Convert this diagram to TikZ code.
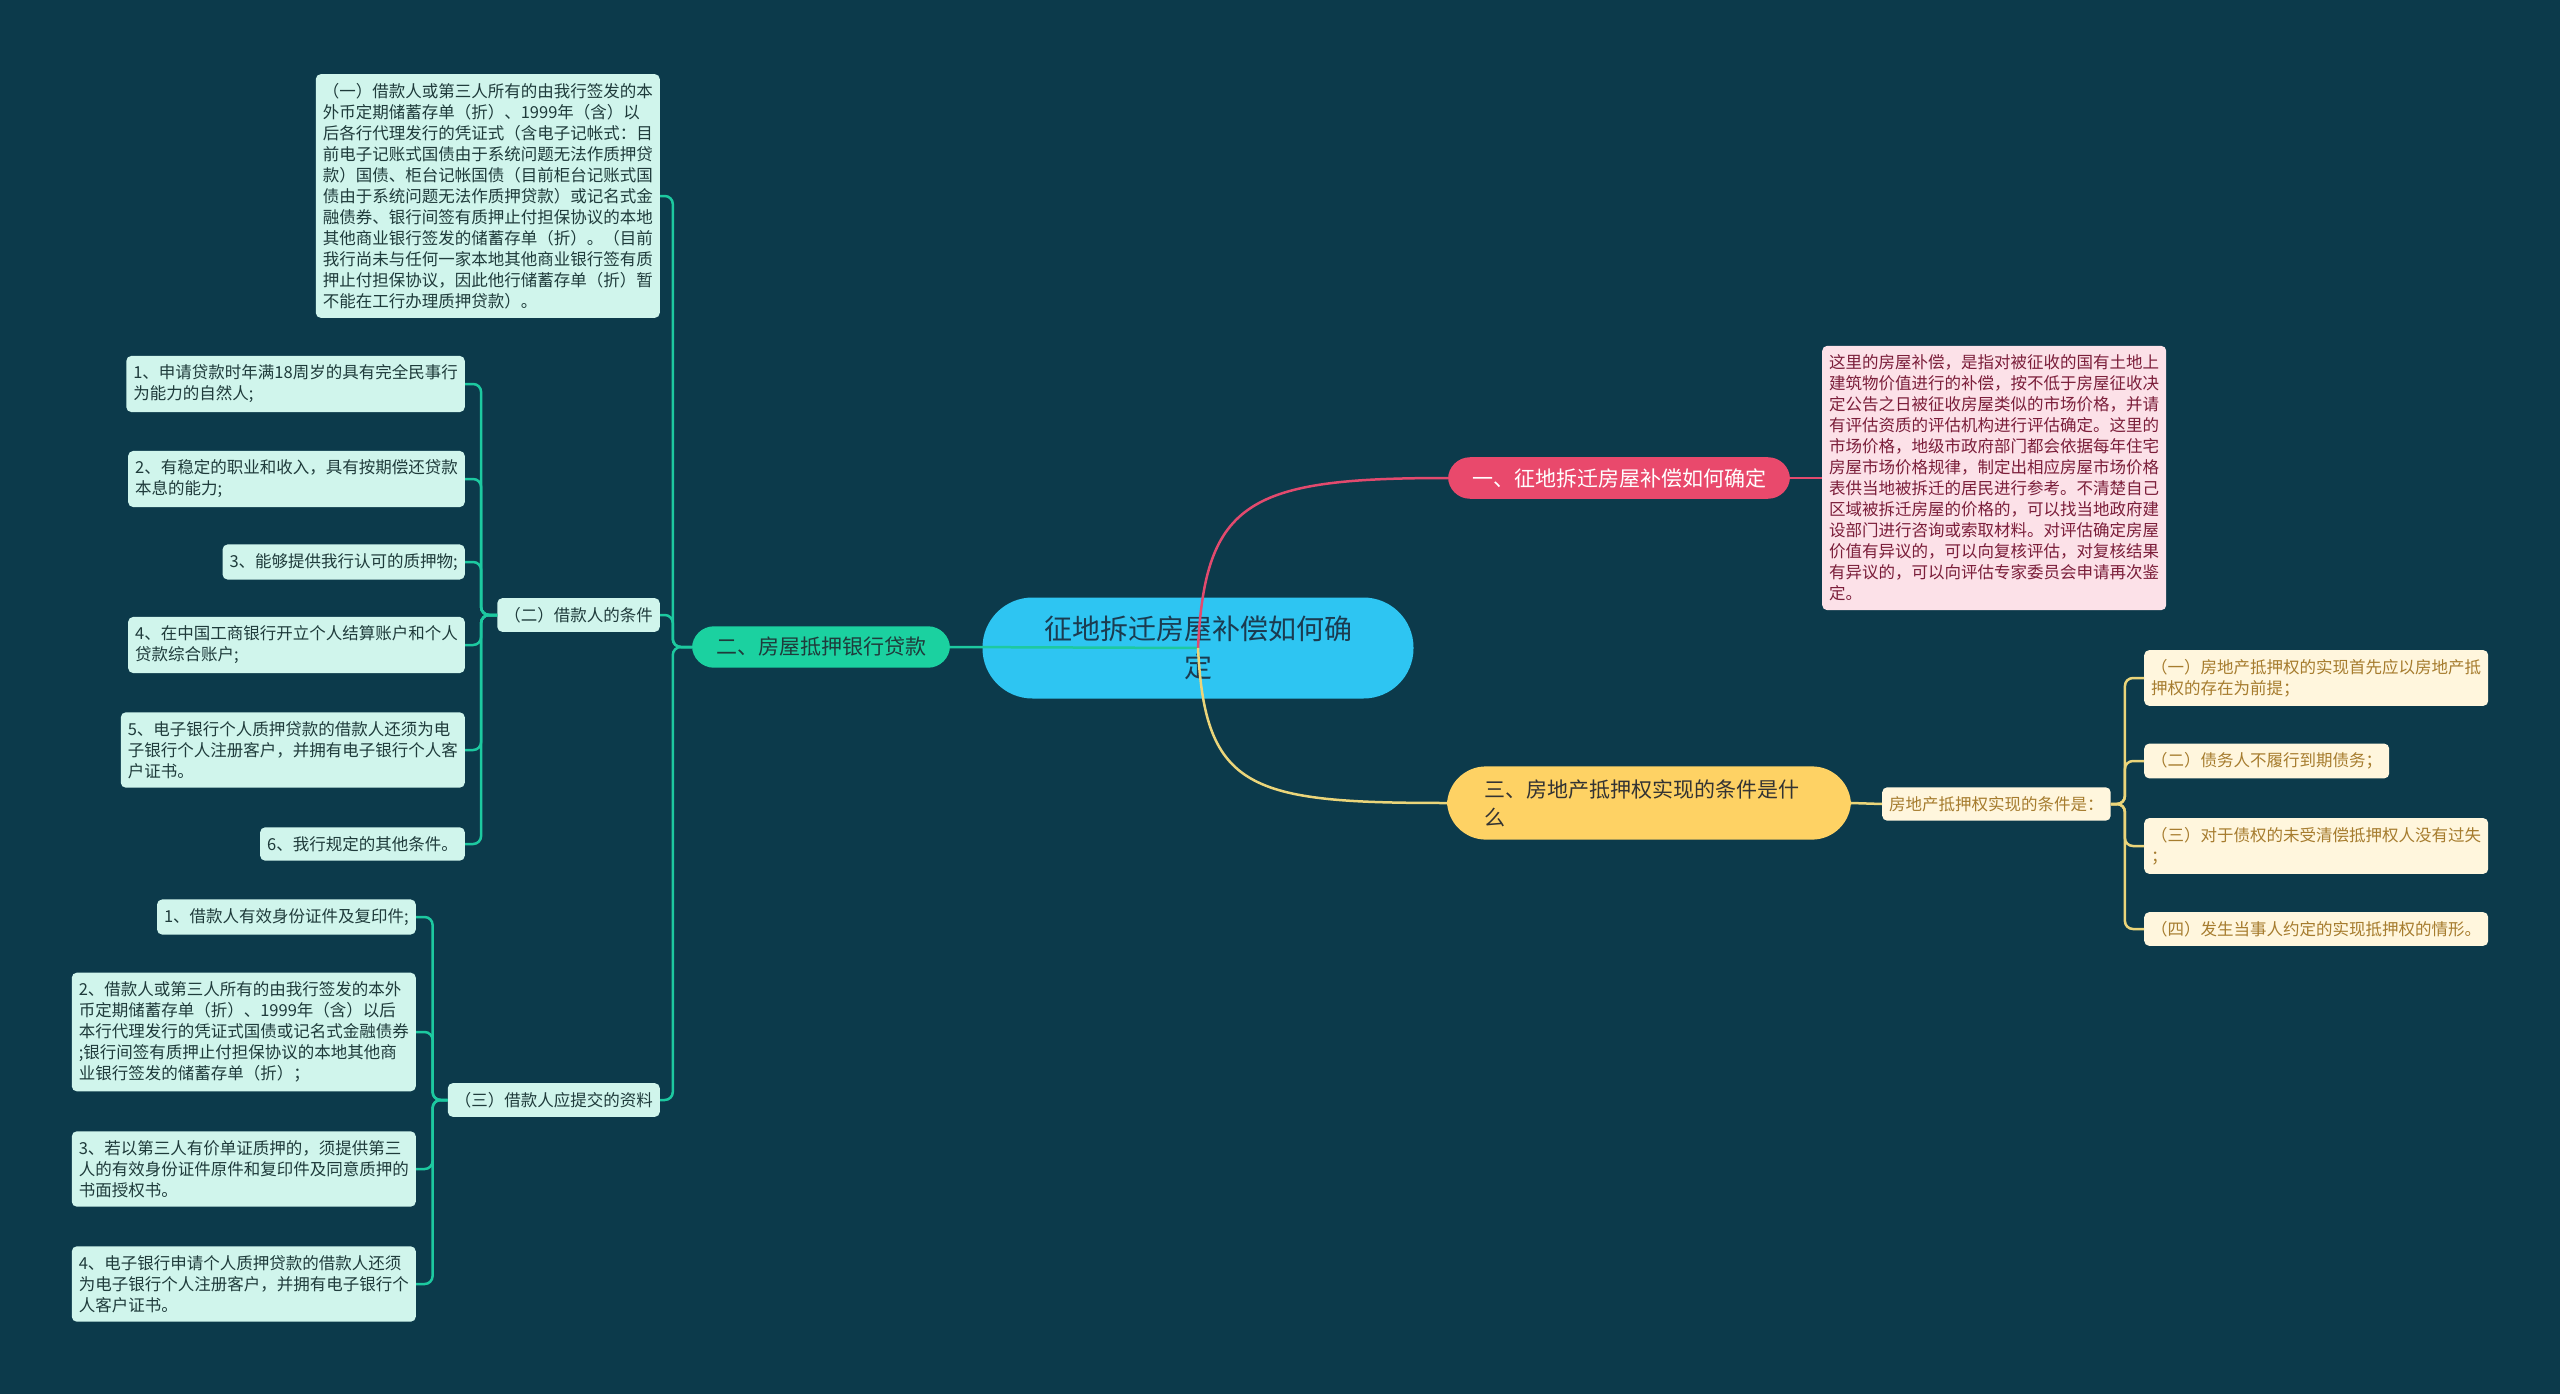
\documentclass[tikz,border=0pt]{standalone}
\usepackage{fontspec}
\setmainfont{Noto Sans CJK SC}
\usetikzlibrary{positioning}
\definecolor{bgteal}{HTML}{0C3A4B}
\definecolor{skyfill}{HTML}{2EC5F2}
\definecolor{skyink}{HTML}{1B3B50}
\definecolor{rosefill}{HTML}{E9496C}
\definecolor{roseline}{HTML}{E24A6E}
\definecolor{rosepale}{HTML}{FCE1E8}
\definecolor{roseink}{HTML}{7B1E3A}
\definecolor{mintfill}{HTML}{1BD1A0}
\definecolor{mintline}{HTML}{1DC9A0}
\definecolor{mintpale}{HTML}{D0F5EC}
\definecolor{mintink}{HTML}{1F3B3B}
\definecolor{goldfill}{HTML}{FED264}
\definecolor{goldline}{HTML}{EBD57A}
\definecolor{goldpale}{HTML}{FFF6DD}
\definecolor{goldink}{HTML}{A67C2E}
\tikzset{
  centre/.style={fill=skyfill, text=skyink, rounded corners=50pt, align=center, minimum width=431pt, minimum height=101pt, font=\fontsize{28}{38}\selectfont},
  topic/.style={rounded corners=22pt, inner xsep=24pt, inner ysep=11pt, font=\fontsize{21}{28}\selectfont},
  leaf/.style={rounded corners=5pt, align=left, inner xsep=7pt, inner ysep=9pt, font=\fontsize{16.5}{21}\selectfont},
  gleaf/.style={leaf, fill=mintpale, text=mintink},
  rleaf/.style={leaf, fill=rosepale, text=roseink},
  yleaf/.style={leaf, fill=goldpale, text=goldink},
  gline/.style={draw=mintline, line width=2.5pt, rounded corners=8pt},
  rline/.style={draw=roseline, line width=2.5pt},
  yline/.style={draw=goldline, line width=2.5pt, rounded corners=8pt},
}

\begin{document}
\begin{tikzpicture}[x=1pt,y=-1pt]
  \fill[bgteal] (0,0) rectangle (2560,1394);

  \node[centre] (root) at (1198,648) {征地拆迁房屋补偿如何确\\定};
  \node[topic, fill=mintfill, text=mintink] (loan) at (821,647) {二、房屋抵押银行贷款};
  \node[topic, fill=rosefill, text=white] (comp) at (1619,478) {一、征地拆迁房屋补偿如何确定};
  \node[topic, fill=goldfill, text=black!80, rounded corners=39pt, inner xsep=37pt, inner ysep=13pt, text width=330pt, align=left] (cond) at (1649,803) {三、房地产抵押权实现的条件是什\\么};

  % 左侧：房屋抵押银行贷款
  \node[gleaf, anchor=east] (pledge) at (660,196) {（一）借款人或第三人所有的由我行签发的本\\外币定期储蓄存单（折）、1999年（含）以\\后各行代理发行的凭证式（含电子记帐式：目\\前电子记账式国债由于系统问题无法作质押贷\\款）国债、柜台记帐国债（目前柜台记账式国\\债由于系统问题无法作质押贷款）或记名式金\\融债券、银行间签有质押止付担保协议的本地\\其他商业银行签发的储蓄存单（折）。（目前\\我行尚未与任何一家本地其他商业银行签有质\\押止付担保协议，因此他行储蓄存单（折）暂\\不能在工行办理质押贷款）。};
  \node[gleaf, anchor=east] (req) at (660,615) {（二）借款人的条件};
  \node[gleaf, anchor=east] (docs) at (660,1100) {（三）借款人应提交的资料};

  \node[gleaf, anchor=east] (req1) at (465,384) {1、申请贷款时年满18周岁的具有完全民事行\\为能力的自然人;};
  \node[gleaf, anchor=east] (req2) at (465,479) {2、有稳定的职业和收入，具有按期偿还贷款\\本息的能力;};
  \node[gleaf, anchor=east] (req3) at (465,562) {3、能够提供我行认可的质押物;};
  \node[gleaf, anchor=east] (req4) at (465,645) {4、在中国工商银行开立个人结算账户和个人\\贷款综合账户;};
  \node[gleaf, anchor=east] (req5) at (465,750) {5、电子银行个人质押贷款的借款人还须为电\\子银行个人注册客户，并拥有电子银行个人客\\户证书。};
  \node[gleaf, anchor=east] (req6) at (465,844) {6、我行规定的其他条件。};

  \node[gleaf, anchor=east] (doc1) at (416,917) {1、借款人有效身份证件及复印件;};
  \node[gleaf, anchor=east] (doc2) at (416,1032) {2、借款人或第三人所有的由我行签发的本外\\币定期储蓄存单（折）、1999年（含）以后\\本行代理发行的凭证式国债或记名式金融债券\\;银行间签有质押止付担保协议的本地其他商\\业银行签发的储蓄存单（折）；};
  \node[gleaf, anchor=east] (doc3) at (416,1169) {3、若以第三人有价单证质押的，须提供第三\\人的有效身份证件原件和复印件及同意质押的\\书面授权书。};
  \node[gleaf, anchor=east] (doc4) at (416,1284) {4、电子银行申请个人质押贷款的借款人还须\\为电子银行个人注册客户，并拥有电子银行个\\人客户证书。};

  % 右侧
  \node[rleaf, anchor=west] (compnote) at (1822,478) {这里的房屋补偿，是指对被征收的国有土地上\\建筑物价值进行的补偿，按不低于房屋征收决\\定公告之日被征收房屋类似的市场价格，并请\\有评估资质的评估机构进行评估确定。这里的\\市场价格，地级市政府部门都会依据每年住宅\\房屋市场价格规律，制定出相应房屋市场价格\\表供当地被拆迁的居民进行参考。不清楚自己\\区域被拆迁房屋的价格的，可以找当地政府建\\设部门进行咨询或索取材料。对评估确定房屋\\价值有异议的，可以向复核评估，对复核结果\\有异议的，可以向评估专家委员会申请再次鉴\\定。};
  \node[yleaf, anchor=west] (condnote) at (1882,804) {房地产抵押权实现的条件是：};
  \node[yleaf, anchor=west] (cond1) at (2144,678) {（一）房地产抵押权的实现首先应以房地产抵\\押权的存在为前提；};
  \node[yleaf, anchor=west] (cond2) at (2144,761) {（二）债务人不履行到期债务；};
  \node[yleaf, anchor=west] (cond3) at (2144,846) {（三）对于债权的未受清偿抵押权人没有过失\\；};
  \node[yleaf, anchor=west] (cond4) at (2144,929) {（四）发生当事人约定的实现抵押权的情形。};

  % connectors
  \draw[gline] (root.center) -- (loan.east);
  \draw[rline] (root.center) .. controls (1205,500) and (1250,478) .. (comp.west);
  \draw[yline] (root.center) .. controls (1205,790) and (1250,803) .. (cond.west);
  \draw[rline] (comp.east) -- (compnote.west);
  \draw[yline] (cond.east) -- (condnote.west);
  \foreach \n in {pledge,req,docs}
    \draw[gline] (loan.west) -- ++(-19,0) |- (\n.east);
  \foreach \n in {req1,req2,req3,req4,req5,req6}
    \draw[gline] (req.west) -- ++(-16,0) |- (\n.east);
  \foreach \n in {doc1,doc2,doc3,doc4}
    \draw[gline] (docs.west) -- ++(-15,0) |- (\n.east);
  \foreach \n in {cond1,cond2,cond3,cond4}
    \draw[yline] (condnote.east) -- ++(14,0) |- (\n.west);
\end{tikzpicture}
\end{document}
